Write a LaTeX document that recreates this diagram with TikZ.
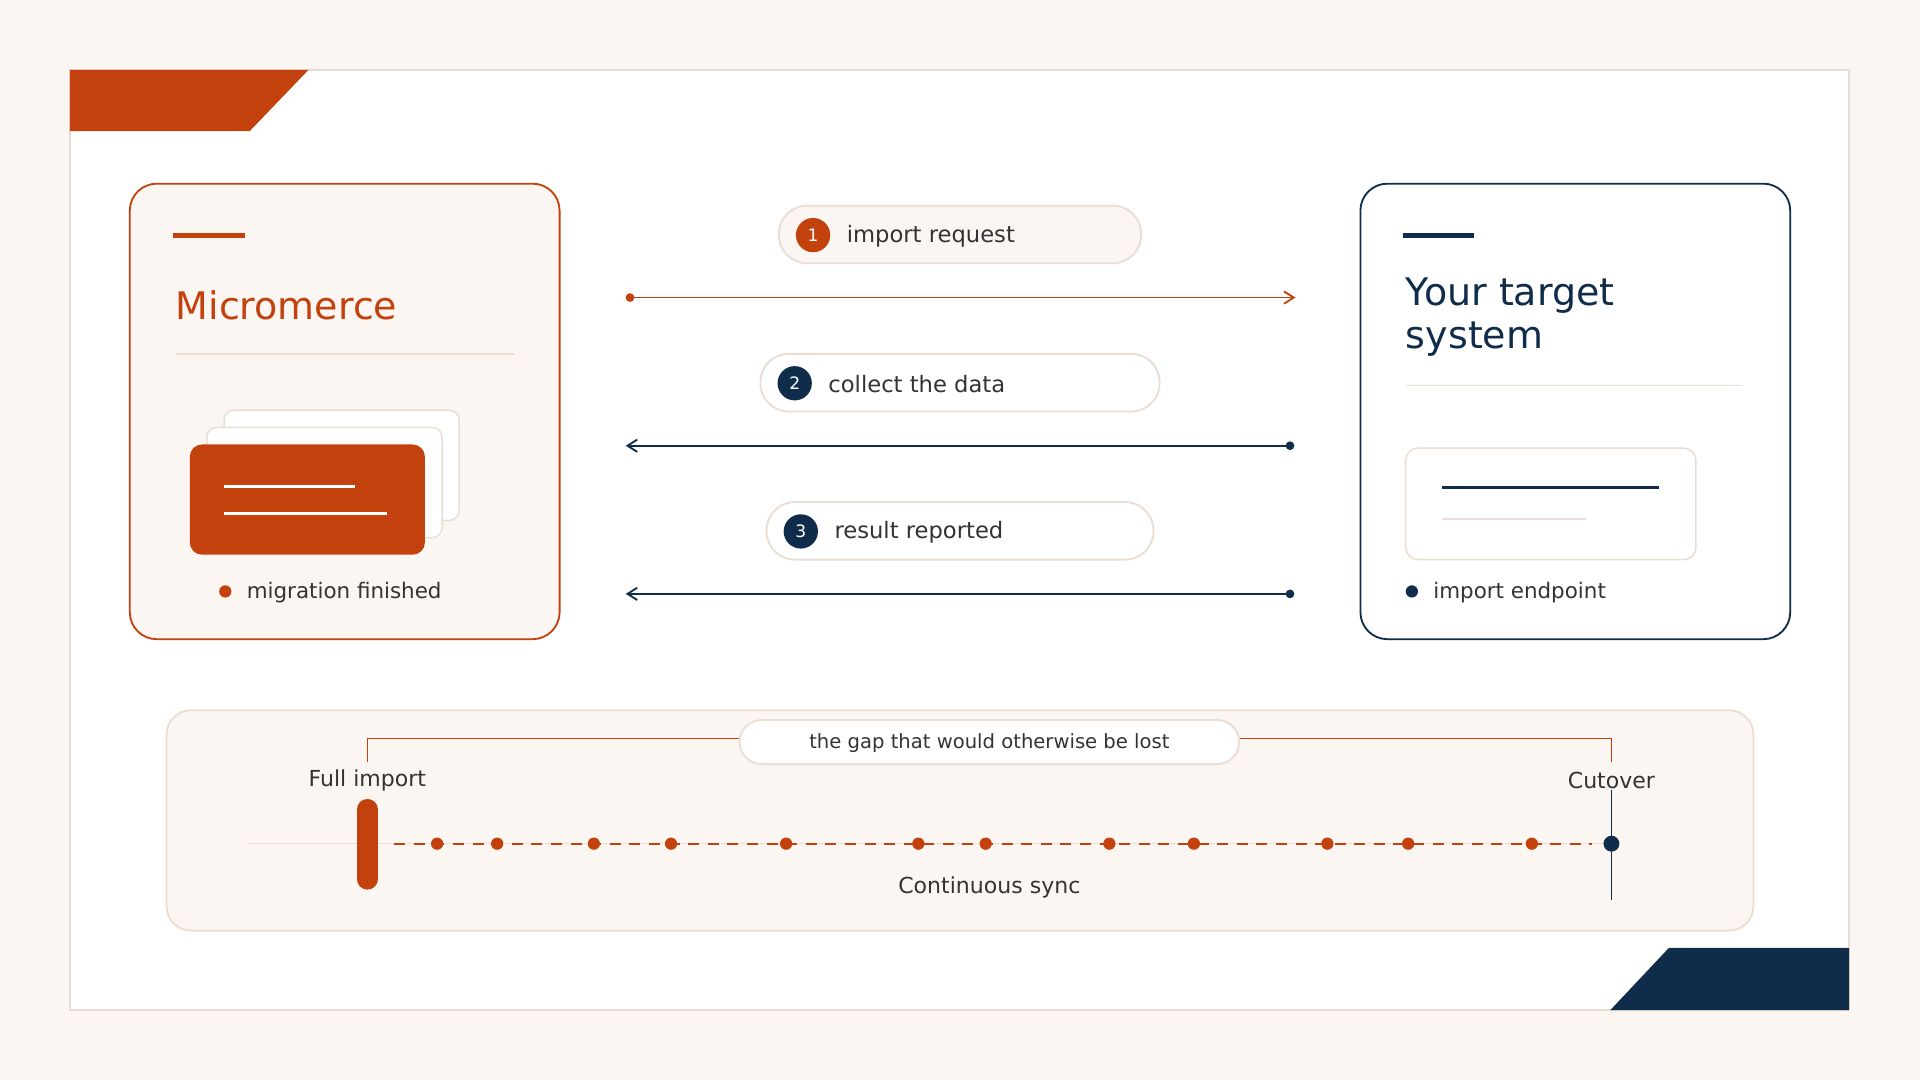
\documentclass[tikz,border=0pt]{standalone}
\usepackage{fontspec}
\setmainfont{DejaVu Sans}
\usetikzlibrary{arrows.meta}
\definecolor{bg}{HTML}{FBF6F2}
\definecolor{org}{HTML}{C2410C}
\definecolor{nav}{HTML}{0F2D4A}
\definecolor{lt}{HTML}{EADDD3}
\definecolor{txt}{HTML}{333333}
\begin{document}
\begin{tikzpicture}[x=1pt,y=-1pt,
 pill/.style={draw=lt,line width=1.5pt,rounded corners=23pt},
 num/.style={circle,minimum size=28pt,inner sep=0pt,text=white,font=\fontsize{14}{14}\selectfont},
 lab/.style={anchor=west,text=txt,font=\fontsize{18.5}{22}\selectfont},
 sd/.style={circle,fill=org,minimum size=10pt,inner sep=0pt}]
\fill[bg] (0,0) rectangle (1568,882);
\useasboundingbox (0,0) rectangle (1568,882);
\draw[lt,fill=white,line width=1.2pt] (57,57) rectangle (1510,825);
\fill[org] (57,57)--(252,57)--(204,107)--(57,107)--cycle;
\fill[nav] (1363,774)--(1510,774)--(1510,825)--(1315,825)--cycle;
% left box
\draw[org,fill=bg,line width=1.5pt,rounded corners=22pt] (106,150) rectangle (457,522);
\draw[org,line width=4pt] (141,192)--(200,192);
\node[anchor=west,text=org,font=\fontsize{31}{36}\selectfont] (mm) at (140,249) {Micromerce};
\draw[lt,line width=1.2pt] (144,289)--(420,289);
\draw[lt,fill=white,line width=1.2pt,rounded corners=8pt] (183,335) rectangle (375,425);
\draw[lt,fill=white,line width=1.2pt,rounded corners=8pt] (169,349) rectangle (361,439);
\fill[org,rounded corners=10pt] (155,363) rectangle (347,453);
\draw[white,line width=2.5pt] (183,397)--(290,397) (183,419)--(316,419);
\node[circle,fill=org,minimum size=10pt,inner sep=0pt] (d1) at (184,483) {};
\node[lab,font=\fontsize{17.5}{20}\selectfont] (mf) at (198,484) {migration finished};
% right box
\draw[nav,fill=white,line width=1.5pt,rounded corners=22pt] (1111,150) rectangle (1462,522);
\draw[nav,line width=4pt] (1146,192)--(1204,192);
\node[anchor=north west,text=nav,align=left,font=\fontsize{31}{35}\selectfont,inner sep=0pt] (yt) at (1148,227) {Your target\\system};
\draw[lt,line width=1.2pt] (1148,315)--(1423,315);
\draw[lt,fill=white,line width=1.2pt,rounded corners=10pt] (1148,366) rectangle (1385,457);
\draw[nav,line width=2.5pt] (1178,398)--(1355,398);
\draw[lt,line width=2pt] (1178,424)--(1295,424);
\node[circle,fill=nav,minimum size=10pt,inner sep=0pt] (d2) at (1153,483) {};
\node[lab,font=\fontsize{17.5}{20}\selectfont] (ie) at (1167,484) {import endpoint};
% pills
\draw[pill,fill=bg] (636,168) rectangle (932,215);
\node[num,fill=org] (n1) at (664,192) {1};
\node[lab] (t1) at (688,193) {import request};
\draw[pill,fill=white] (621,289) rectangle (947,336);
\node[num,fill=nav] (n2) at (649,313) {2};
\node[lab] (t2) at (673,314) {collect the data};
\draw[pill,fill=white] (626,410) rectangle (942,457);
\node[num,fill=nav] (n3) at (654,434) {3};
\node[lab] (t3) at (678,435) {result reported};
% arrows
\coordinate (a1) at (511,243); \coordinate (b1) at (1058,243);
\coordinate (a2) at (1057,364); \coordinate (b2) at (511,364);
\coordinate (a3) at (1057,485); \coordinate (b3) at (511,485);
\draw[org,line width=1.5pt,{Circle[length=7pt]}-{Straight Barb[length=8pt,width=10pt]}] (a1)--(b1);
\draw[nav,line width=1.5pt,{Circle[length=7pt]}-{Straight Barb[length=8pt,width=10pt]}] (a2)--(b2);
\draw[nav,line width=1.5pt,{Circle[length=7pt]}-{Straight Barb[length=8pt,width=10pt]}] (a3)--(b3);
% bottom panel
\draw[lt,fill=bg,line width=1.5pt,rounded corners=20pt] (136,580) rectangle (1432,760);
\draw[org,line width=1.3pt] (300,622)--(300,603)--(1316,603)--(1316,622);
\draw[pill,fill=white,rounded corners=18pt] (604,588) rectangle (1012,624);
\node[text=txt,font=\fontsize{16}{18}\selectfont] (gap) at (808,607) {the gap that would otherwise be lost};
\node[text=txt,font=\fontsize{18}{20}\selectfont] (fi) at (300,637) {Full import};
\node[text=txt,font=\fontsize{18}{20}\selectfont] (co) at (1316,637) {Cutover};
\draw[lt,line width=1.2pt] (203,689)--(1316,689);
\draw[org,line width=1.5pt,dash pattern=on 9pt off 7pt] (322,689)--(1300,689);
\draw[org,line width=17pt,line cap=round] (300,661)--(300,718);
\foreach \x in {357,406,485,548,642,750,805,906,975,1084,1150,1251}
  \node[sd] at (\x,689) {};
\draw[nav,line width=1.5pt] (1316,645)--(1316,735);
\node[circle,fill=nav,minimum size=13pt,inner sep=0pt] (cd) at (1316,689) {};
\node[text=txt,font=\fontsize{18}{20}\selectfont] (cs) at (808,725) {Continuous sync};
\end{tikzpicture}
\end{document}
